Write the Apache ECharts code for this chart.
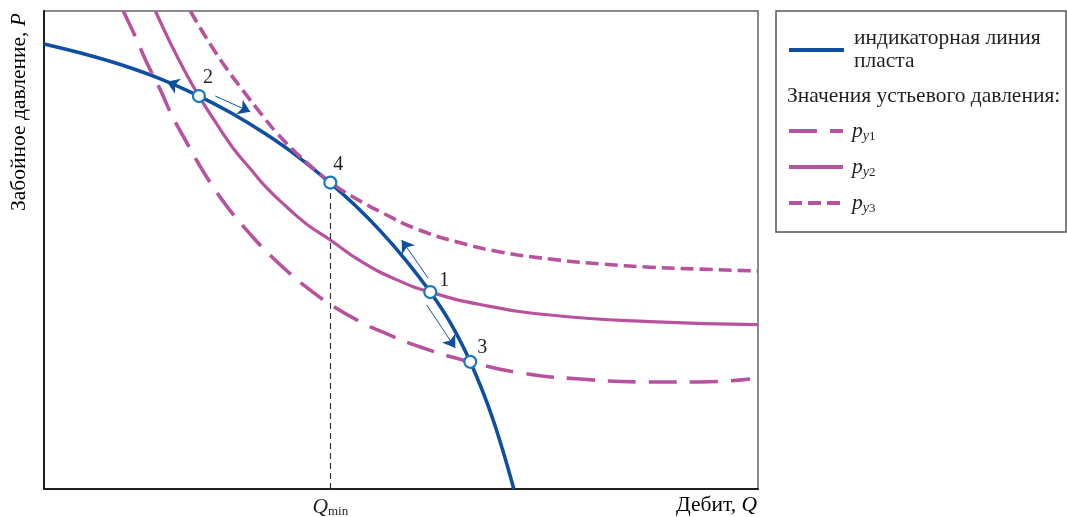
<!DOCTYPE html>
<html>
<head>
<meta charset="utf-8">
<script src="https://cdn.jsdelivr.net/npm/echarts@6/dist/echarts.min.js"></script>
<style>
  html, body { margin: 0; padding: 0; background: #fff; }
  #chart { width: 1067px; height: 517px; }
</style>
</head>
<body>
<div id="chart"></div>
<script>
// Indicator line of the formation: bottom-hole pressure P against flow rate Q (relative units 0..100)
const indicatorQ = [0, 5.4, 10.9, 16.3, 21.7, 26.3, 30.9, 35.5, 40.1, 43.6, 47.1, 50.6, 54.1, 56.9, 59.7, 62.8, 65.8];
const indicatorP = [93.1, 91.1, 88.7, 85.8, 82.2, 78.6, 74.4, 69.6, 64.0, 59.3, 54.0, 48.0, 41.2, 34.8, 26.6, 14.9, 0];

// Lift curves for three wellhead pressures
const py1Q = [11.1, 12.8, 14.3, 16.3, 17.9, 19.8, 21.6, 23.7, 26.1, 28.6, 31.2, 34.5, 37.3, 40.3, 44.0, 47.8, 52.7, 59.7, 66.7, 75.1, 84.9, 91.9, 98.9];
const py1P = [100, 94.6, 89.5, 83.5, 78.2, 73.0, 68.2, 63.2, 58.2, 53.8, 49.6, 45.0, 41.6, 38.4, 35.2, 32.6, 29.7, 26.6, 24.3, 23.0, 22.4, 22.4, 23.0];

const py2Q = [15.6, 17.7, 19.8, 21.7, 24.0, 26.5, 28.9, 31.2, 34.0, 36.8, 40.1, 44.3, 49.2, 54.1, 61.1, 70.9, 84.9, 100];
const py2P = [100, 93.3, 87.2, 82.2, 76.8, 71.3, 67.0, 63.0, 59.0, 55.4, 52.1, 47.7, 43.9, 41.2, 38.6, 36.4, 35.0, 34.4];

const py3Q = [20.5, 21.9, 23.7, 25.6, 27.9, 30.3, 32.6, 35.9, 38.2, 40.1, 43.3, 47.5, 52.2, 58.3, 63.9, 70.9, 77.9, 84.9, 91.9, 100];
const py3P = [100, 96.4, 92.1, 87.9, 83.3, 78.7, 74.5, 69.5, 66.5, 64.2, 61.1, 57.7, 54.4, 51.5, 49.6, 48.1, 47.1, 46.4, 46.0, 45.6];

// Operating points (intersections of the curves)
const pointNames = ['2', '4', '1', '3'];
const pointQ = [21.7, 40.1, 54.1, 59.7];
const pointP = [82.2, 64.1, 41.2, 26.6];

// Direction arrows near the operating points: start and end in (Q, P)
const arrowFromQ = [20.7, 24.0, 53.8, 53.6];
const arrowFromP = [83.1, 82.2, 44.1, 38.5];
const arrowToQ = [17.2, 28.9, 50.1, 57.6];
const arrowToP = [85.2, 78.9, 52.1, 29.5];

// Text
const indicatorName = 'индикаторная линия пласта';
const indicatorLegend = 'индикаторная линия\nпласта';
const wellheadHeading = 'Значения устьевого давления:';
const seriesNames = ['pу1', 'pу2', 'pу3'];
const yTitle = 'Забойное давление, ';
const yVar = 'P';
const xTitle = 'Дебит, ';
const xVar = 'Q';

// ---- styling ----
const serif = 'Liberation Serif';
const ink = '#231f20';
const blue = '#0f4f9f';
const pointBlue = '#1878bd';
const magenta = '#b8529f';
const fs = 21.5;

const zip = (xs, ys) => xs.map((x, i) => [x, ys[i]]);
const qMin = pointQ[1];

const richText = {
  n: { fontFamily: serif, fontSize: fs, color: ink },
  i: { fontFamily: serif, fontSize: fs, color: ink, fontStyle: 'italic' }
};

const labelOffsets = [[9, -18], [8, -18], [14, -11], [12, -14]];

const chart = echarts.init(document.getElementById('chart'), null, { renderer: 'canvas' });

const curveStyle = (dash, width) => ({
  type: 'line',
  smooth: 0.5,
  symbol: 'none',
  z: 3,
  itemStyle: { color: magenta },
  lineStyle: { color: magenta, width: width, type: dash },
  silent: true
});

const option = {
  animation: false,
  backgroundColor: '#fff',
  grid: {
    left: 44, right: 309, top: 11, bottom: 28,
    containLabel: false,
    outerBoundsMode: 'none',
    show: true, borderColor: '#666', borderWidth: 1.5, backgroundColor: 'transparent'
  },
  xAxis: {
    type: 'value', min: 0, max: 100,
    axisLine: { lineStyle: { color: ink, width: 2 } },
    axisTick: { show: false },
    splitLine: { show: false },
    axisLabel: {
      customValues: [qMin],
      margin: 7,
      formatter: () => '{q|Q}{m|min}',
      rich: {
        q: { fontFamily: serif, fontSize: fs, fontStyle: 'italic', color: ink, lineHeight: 22 },
        m: { fontFamily: serif, fontSize: 13, color: ink, lineHeight: 12, verticalAlign: 'bottom' }
      }
    }
  },
  yAxis: {
    type: 'value', min: 0, max: 100,
    axisLine: { lineStyle: { color: ink, width: 2 } },
    axisTick: { show: false },
    axisLabel: { show: false },
    splitLine: { show: false }
  },
  legend: [
    {
      left: 787, top: 27, orient: 'vertical', padding: 0,
      data: [indicatorName],
      itemWidth: 55, itemHeight: 14,
      selectedMode: false,
      itemStyle: { opacity: 0 },
      lineStyle: { width: 4 },
      formatter: () => indicatorLegend,
      textStyle: { fontFamily: serif, fontSize: fs, color: ink, lineHeight: 23, padding: [0, 0, 0, 5] }
    },
    {
      left: 787, top: 120, orient: 'vertical', padding: 0,
      data: seriesNames,
      itemWidth: 54, itemHeight: 14, itemGap: 13,
      selectedMode: false,
      itemStyle: { opacity: 0 },
      lineStyle: { width: 4 },
      formatter: name => '{p|p}{s|у}{d|' + name.slice(-1) + '}',
      textStyle: {
        padding: [0, 0, 0, 4],
        rich: {
          p: { fontFamily: serif, fontSize: fs, fontStyle: 'italic', color: ink, lineHeight: 24 },
          s: { fontFamily: serif, fontSize: 14, fontStyle: 'italic', color: ink, lineHeight: 13, verticalAlign: 'bottom' },
          d: { fontFamily: serif, fontSize: 13, color: ink, lineHeight: 13, verticalAlign: 'bottom' }
        }
      }
    }
  ],
  graphic: [
    {
      type: 'rect', z: 0,
      shape: { x: 776, y: 11, width: 290, height: 221 },
      style: { fill: 'none', stroke: '#555', lineWidth: 1.5 }
    },
    {
      type: 'text', x: 787, y: 96.5,
      style: { text: wellheadHeading, font: fs + 'px "' + serif + '"', fill: ink, align: 'left', verticalAlign: 'middle' }
    },
    {
      type: 'text', x: 19, y: 112, rotation: Math.PI / 2,
      style: { text: '{n|' + yTitle + '}{i|' + yVar + '}', rich: richText, align: 'center', verticalAlign: 'middle' }
    },
    {
      type: 'text', x: 757, y: 505,
      style: { text: '{n|' + xTitle + '}{i|' + xVar + '}', rich: richText, align: 'right', verticalAlign: 'middle' }
    }
  ],
  series: [
    {
      name: indicatorName,
      type: 'line',
      smooth: 0.4,
      symbol: 'none',
      z: 2,
      silent: true,
      itemStyle: { color: blue },
      lineStyle: { color: blue, width: 3.6 },
      data: zip(indicatorQ, indicatorP),
      markLine: {
        silent: true,
        symbol: ['none', 'none'],
        label: { show: false },
        lineStyle: { color: '#333', width: 1.2, type: [6, 4] },
        data: [[{ coord: [qMin, 0] }, { coord: [qMin, pointP[1]] }]]
      }
    },
    Object.assign(curveStyle([28, 13], 3.6), { name: seriesNames[0], data: zip(py1Q, py1P) }),
    Object.assign(curveStyle('solid', 3.2), { name: seriesNames[1], data: zip(py2Q, py2P) }),
    Object.assign(curveStyle([13, 6], 3.6), { name: seriesNames[2], data: zip(py3Q, py3P) }),
    {
      type: 'lines',
      coordinateSystem: 'cartesian2d',
      z: 4,
      silent: true,
      symbol: ['none', 'arrow'],
      symbolSize: 12,
      lineStyle: { color: blue, width: 1, opacity: 1 },
      data: arrowFromQ.map((q, i) => ({ coords: [[q, arrowFromP[i]], [arrowToQ[i], arrowToP[i]]] }))
    },
    {
      type: 'scatter',
      z: 5,
      silent: true,
      symbol: 'circle',
      symbolSize: 12,
      itemStyle: { color: '#ffffff', borderColor: pointBlue, borderWidth: 2.2, opacity: 1 },
      label: {
        show: true, position: 'inside',
        fontFamily: serif, fontSize: 20, color: ink,
        formatter: p => pointNames[p.dataIndex]
      },
      data: pointQ.map((q, i) => ({
        value: [q, pointP[i]],
        label: { offset: labelOffsets[i] }
      }))
    }
  ]
};

chart.setOption(option);
</script>
</body>
</html>
